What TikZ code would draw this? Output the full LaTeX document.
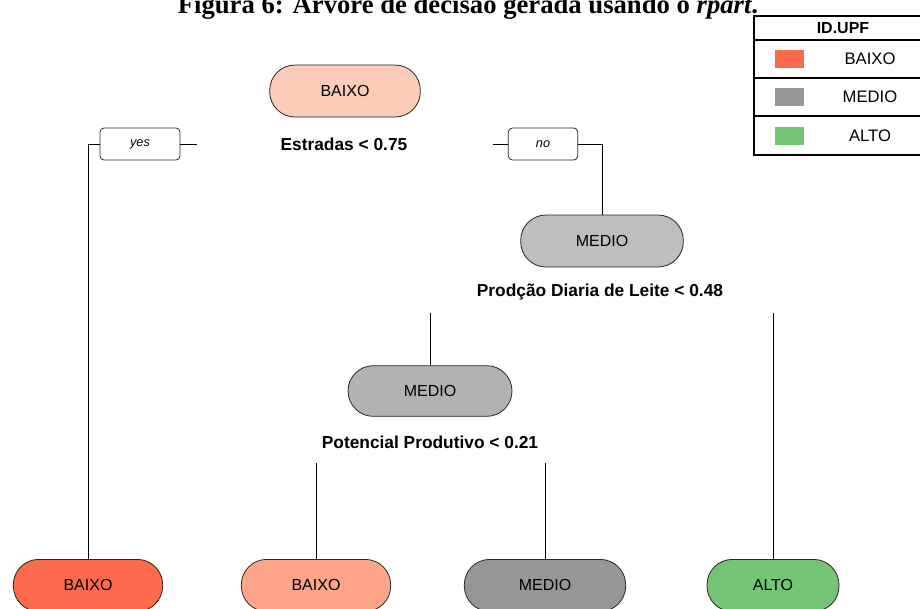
\documentclass[tikz,border=0pt]{standalone}
\usepackage{fontspec}
\setmainfont{Liberation Sans}
\newfontfamily\titlefont{Liberation Serif}
\usepackage{tikz}
\usetikzlibrary{positioning,calc}
\definecolor{rootzone}{RGB}{252,204,185}
\definecolor{lowzone}{RGB}{251,106,74}
\definecolor{lowlight}{RGB}{252,165,136}
\definecolor{midzone}{RGB}{150,150,150}
\definecolor{midlight}{RGB}{190,190,190}
\definecolor{midmid}{RGB}{178,178,178}
\definecolor{highzone}{RGB}{116,196,118}

\begin{document}
\begin{tikzpicture}[x=0.75pt,y=-0.75pt,
    treenode/.style={draw=black!85, line width=0.6pt, rounded corners=19pt,
        inner sep=0pt, minimum height=39pt, font=\fontsize{12}{14}\selectfont},
    splitlabel/.style={font=\bfseries\fontsize{13}{15}\selectfont},
    answerbox/.style={draw=black!85, line width=0.6pt, rounded corners=3pt,
        minimum height=24pt, inner sep=0pt, font=\itshape\fontsize{9.5}{11}\selectfont},
    edge/.style={black, line width=0.75pt}]
    \useasboundingbox (0,0) rectangle (920,608);
    \clip (0,0) rectangle (920,608);

    % Caption (cut at the top of the page)
    \node[font=\titlefont\bfseries\fontsize{20}{24}\selectfont, anchor=base] (title) at (468,13)
        {Figura 6: Árvore de decisão gerada usando o \textit{rpart}.};

    % Root split
    \node[treenode, fill=rootzone, minimum width=113pt] (root) at (345,91) {BAIXO};
    \node[splitlabel] (split1) at (344,144) {Estradas < 0.75};
    \node[answerbox, minimum width=60pt] (yes) at (140,144) {yes};
    \node[answerbox, minimum width=52pt] (no) at (543,144) {no};
    \coordinate (yesend) at (197,144);
    \coordinate (nostart) at (493,144);

    % Second split
    \node[treenode, fill=midlight, minimum width=122pt] (medioA) at (602,241) {MEDIO};
    \node[splitlabel] (split2) at (600,292) {Prodção Diaria de Leite < 0.48};
    \coordinate (leftA) at (430,313);
    \coordinate (rightA) at (773,313);

    % Third split
    \node[treenode, fill=midmid, minimum width=123pt, minimum height=38pt] (medioB) at (430,391) {MEDIO};
    \node[splitlabel] (split3) at (430,442) {Potencial Produtivo < 0.21};
    \coordinate (leftB) at (316,463);
    \coordinate (rightB) at (545,463);

    % Leaves
    \node[treenode, fill=lowzone, minimum width=112pt, anchor=north] (leafA) at (88,559) {BAIXO};
    \node[treenode, fill=lowlight, minimum width=112pt, anchor=north] (leafB) at (316,559) {BAIXO};
    \node[treenode, fill=midzone, minimum width=121pt, anchor=north] (leafC) at (545,559) {MEDIO};
    \node[treenode, fill=highzone, minimum width=99pt, anchor=north] (leafD) at (773,559) {ALTO};

    % Connectors
    \draw[edge] (yes.west) -| (leafA.north);
    \draw[edge] (yes.east) -- (yesend);
    \draw[edge] (nostart) -- (no.west);
    \draw[edge] (no.east) -| (medioA.north);
    \draw[edge] (leftA) -- (medioB.north);
    \draw[edge] (rightA) -- (leafD.north);
    \draw[edge] (leftB) -- (leafB.north);
    \draw[edge] (rightB) -- (leafC.north);

    % Legend (runs off the right edge)
    \draw[line width=2.2pt] (754,16) rectangle (940,155);
    \foreach \y in {40,78,116} {
        \draw[line width=2.2pt] (754,\y) -- (940,\y);
    }
    \node[font=\bfseries\fontsize{12}{14}\selectfont] (legtitle) at (843,28) {ID.UPF};
    \foreach \lab/\col/\y in {BAIXO/lowzone/59, MEDIO/midzone/97, ALTO/highzone/136} {
        \fill[\col] (775,\y-9) rectangle (804,\y+9);
        \node[font=\fontsize{12.5}{15}\selectfont] at (870,\y) {\lab};
    }

\end{tikzpicture}
\end{document}
